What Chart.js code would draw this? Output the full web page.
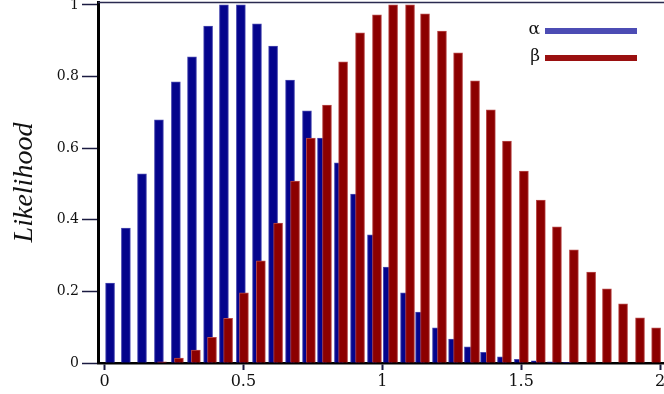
<!DOCTYPE html>
<html>
<head>
<meta charset="utf-8">
<script src="https://cdn.jsdelivr.net/npm/chart.js@4"></script>
<style>
  html, body { margin: 0; padding: 0; background: #fff; }
  #wrap { width: 664px; height: 394px; }
</style>
</head>
<body>
<div id="wrap"><canvas id="likelihoodChart" width="664" height="394"></canvas></div>
<script>
// values
const seriesNames = ['α', 'β'];
const alphaX = [0.020, 0.077, 0.135, 0.196, 0.257, 0.315, 0.373, 0.430, 0.491, 0.549,
                0.607, 0.668, 0.729, 0.783, 0.844, 0.902, 0.963, 1.020, 1.082, 1.136,
                1.197, 1.255, 1.312, 1.370, 1.431, 1.492, 1.553, 1.611, 1.665];
const alphaY = [0.223, 0.377, 0.528, 0.679, 0.785, 0.855, 0.941, 1.0, 1.0, 0.947,
                0.885, 0.79, 0.704, 0.628, 0.559, 0.472, 0.358, 0.268, 0.196, 0.142,
                0.098, 0.067, 0.045, 0.03, 0.017, 0.01, 0.006, 0.003, 0.001];
const betaX = [0.207, 0.268, 0.329, 0.387, 0.445, 0.502, 0.563, 0.625, 0.686, 0.743,
               0.801, 0.859, 0.920, 0.981, 1.039, 1.100, 1.154, 1.215, 1.273, 1.334,
               1.391, 1.449, 1.510, 1.571, 1.629, 1.690, 1.752, 1.809, 1.867, 1.928, 1.986];
const betaY = [0.003, 0.014, 0.036, 0.072, 0.125, 0.196, 0.285, 0.391, 0.508, 0.628,
               0.72, 0.841, 0.922, 0.972, 1.0, 1.0, 0.975, 0.927, 0.866, 0.788,
               0.707, 0.620, 0.536, 0.455, 0.38, 0.316, 0.254, 0.207, 0.165, 0.126, 0.098];
const xTicks = [0, 0.5, 1, 1.5, 2];
const yTicks = [0, 0.2, 0.4, 0.6, 0.8, 1];

const toPoints = (xs, ys) => xs.map((x, i) => ({ x: x, y: ys[i] }));

// legend drawn inside the plot, text first then a thick line
const sideLegend = {
    id: 'sideLegend',
    afterDraw(chart) {
        const ctx = chart.ctx;
        const area = chart.chartArea;
        ctx.save();
        chart.data.datasets.forEach((ds, i) => {
            const y = area.top + 29 + i * 27;
            ctx.fillStyle = '#111';
            ctx.font = '17px "DejaVu Serif"';
            ctx.textAlign = 'right';
            ctx.textBaseline = 'middle';
            ctx.fillText(ds.label, area.right - 124, y - 1);
            ctx.strokeStyle = ds.legendColor;
            ctx.lineWidth = 6;
            ctx.beginPath();
            ctx.moveTo(area.right - 119, y);
            ctx.lineTo(area.right - 27, y);
            ctx.stroke();
        });
        // thin frame on top of the plot
        ctx.strokeStyle = '#2a2a50';
        ctx.lineWidth = 1.5;
        ctx.beginPath();
        ctx.moveTo(area.left, area.top + 0.5);
        ctx.lineTo(area.right, area.top + 0.5);
        ctx.stroke();
        ctx.restore();
    }
};

const ctx = document.getElementById('likelihoodChart');
new Chart(ctx, {
    type: 'bar',
    data: {
        datasets: [
            {
                label: seriesNames[0],
                data: toPoints(alphaX, alphaY),
                backgroundColor: '#04048c',
                borderColor: '#4848b0',
                borderWidth: 1,
                legendColor: '#4c4cb4',
                order: 2,
            },
            {
                label: seriesNames[1],
                data: toPoints(betaX, betaY),
                backgroundColor: '#8c0000',
                borderColor: '#b84848',
                borderWidth: 1,
                legendColor: '#9a1010',
                order: 1,
            },
        ],
    },
    options: {
        responsive: false,
        animation: false,
        grouped: false,
        barThickness: 9,
        layout: { padding: { top: 2, right: 0, bottom: 0, left: 0 } },
        plugins: {
            legend: { display: false },
            tooltip: { enabled: false },
        },
        scales: {
            x: {
                type: 'linear',
                min: -0.0234,
                max: 2.0144,
                offset: false,
                afterFit: (scale) => {
                    scale.height = 31;
                    scale.paddingLeft = 0;
                    scale.paddingRight = 0;
                },
                afterBuildTicks: (scale) => { scale.ticks = xTicks.map(v => ({ value: v })); },
                grid: {
                    offset: false,
                    drawOnChartArea: false,
                    drawTicks: true,
                    tickLength: 7,
                    tickColor: '#1a1a40',
                    tickWidth: 2,
                },
                border: { display: true, color: '#000', width: 2.5 },
                ticks: {
                    autoSkip: false,
                    maxRotation: 0,
                    padding: 2,
                    color: '#111',
                    font: { family: 'DejaVu Serif', size: 16 },
                    callback: (v) => String(v),
                },
            },
            y: {
                min: 0,
                max: 1.008,
                afterFit: (scale) => {
                    scale.width = 98;
                    scale.paddingTop = 0;
                    scale.paddingBottom = 0;
                },
                afterBuildTicks: (scale) => { scale.ticks = yTicks.map(v => ({ value: v })); },
                grid: {
                    drawOnChartArea: false,
                    drawTicks: true,
                    tickLength: 16,
                    tickColor: '#1a1a40',
                    tickWidth: 1.5,
                },
                border: { display: true, color: '#000', width: 3 },
                ticks: {
                    padding: 3,
                    color: '#111',
                    font: { family: 'DejaVu Serif', size: 14 },
                    callback: (v) => String(v),
                },
                title: {
                    display: true,
                    text: 'Likelihood',
                    color: '#111',
                    padding: { top: 8, bottom: 0 },
                    font: { family: 'Liberation Serif', size: 28, style: 'italic' },
                },
            },
        },
    },
    plugins: [sideLegend],
});
</script>
</body>
</html>
